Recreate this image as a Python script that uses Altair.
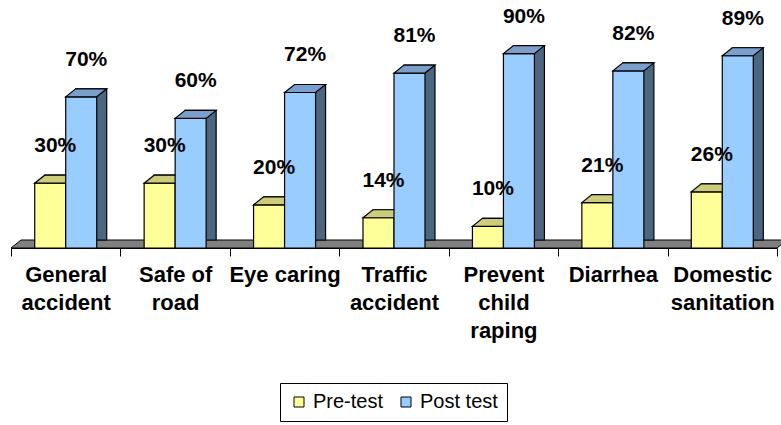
import altair as alt
import pandas as pd

# Survey topics and the share of correct answers before / after the course
categories = [
    "General\naccident",
    "Safe of\nroad",
    "Eye caring",
    "Traffic\naccident",
    "Prevent\nchild\nraping",
    "Diarrhea",
    "Domestic\nsanitation",
]
series_names = ["Pre-test", "Post test"]
pre_test = [30, 30, 20, 14, 10, 21, 26]
post_test = [70, 60, 72, 81, 90, 82, 89]

rows = []
for cat, a, b in zip(categories, pre_test, post_test):
    rows.append({"topic": cat, "series": "Pre-test", "value": a, "label": f"{a}%"})
    rows.append({"topic": cat, "series": "Post test", "value": b, "label": f"{b}%"})
df = pd.DataFrame(rows)

FONT = "Liberation Sans"
BAR_W = 31          # front face width of each column
DEPTH_X = 10        # 3-D depth, horizontal part
DEPTH_Y = 8         # 3-D depth, vertical part

# colours per series: front, top, side
faces = {
    "Pre-test": ("#FFFF99", "#CCCC7A", "#999966"),
    "Post test": ("#99CCFF", "#7A9FCC", "#4D6680"),
}
shift = {"Pre-test": -BAR_W / 2, "Post test": BAR_W / 2}

# top face of a column, drawn as a symbol in pixel units (size=4 -> scale 1)
half = BAR_W / 2
TOP_PATH = (
    f"M{-half},0 L{half},0 L{half + DEPTH_X},{-DEPTH_Y} "
    f"L{-half + DEPTH_X},{-DEPTH_Y} Z"
)
PLOT_W, PLOT_H = 766, 216
FLOOR_PATH = (
    f"M0,0 L{PLOT_W},0 L{PLOT_W + DEPTH_X},{-DEPTH_Y} L{DEPTH_X},{-DEPTH_Y} Z"
)

x_enc = alt.X(
    "topic:N",
    sort=categories,
    scale=alt.Scale(paddingInner=0, paddingOuter=0),
    axis=alt.Axis(
        title=None,
        labelAngle=0,
        labelExpr="split(datum.label, '\\n')",
        labelFont=FONT,
        labelFontSize=22,
        labelFontWeight="bold",
        labelColor="black",
        labelLineHeight=28,
        labelPadding=8,
        labelLimit=0,
        labelOverlap=False,
        domainColor="black",
        domainWidth=1,
        tickColor="black",
        tickSize=8,
        tickBand="extent",
        grid=False,
    ),
)
y_scale = alt.Scale(domain=[0, 100])
y_enc = alt.Y("value:Q", scale=y_scale, axis=None)

base = alt.Chart(df)

# grey floor slab under the columns
floor = (
    base.transform_filter(alt.datum.series == "Pre-test")
    .transform_filter(alt.datum.topic == categories[0])
    .transform_calculate(zero="0")
    .mark_point(
        shape=FLOOR_PATH, size=4, filled=True, fill="#808080",
        stroke="black", strokeWidth=1, opacity=1,
    )
    .encode(x=alt.value(0), y=alt.Y("zero:Q", scale=y_scale, axis=None))
)

layers = [floor]
for name in series_names:
    front_c, top_c, side_c = faces[name]
    sub = base.transform_filter(alt.datum.series == name)
    dx = shift[name]
    side = sub.mark_bar(
        width=BAR_W, xOffset=dx + DEPTH_X, yOffset=-DEPTH_Y, y2Offset=-DEPTH_Y,
        fill=side_c, stroke="black", strokeWidth=1.2,
    ).encode(x=x_enc, y=y_enc)
    front = sub.mark_bar(
        width=BAR_W, xOffset=dx, stroke="black", strokeWidth=1.2, opacity=1,
    ).encode(
        x=x_enc,
        y=y_enc,
        color=alt.Color(
            "series:N",
            scale=alt.Scale(domain=series_names,
                            range=[faces[s][0] for s in series_names]),
            legend=alt.Legend(
                title=None,
                orient="none",
                legendX=269,
                legendY=351,
                direction="horizontal",
                symbolType="square",
                symbolSize=100,
                symbolStrokeColor="black",
                symbolStrokeWidth=1,
                symbolOpacity=1,
                labelFont=FONT,
                labelFontSize=20,
                labelColor="black",
                labelOffset=4,
                columnPadding=12,
                padding=9,
                strokeColor="black",
                fillColor="white",
            ),
        ),
    )
    top = sub.mark_point(
        shape=TOP_PATH, size=4, filled=True, fill=top_c,
        stroke="black", strokeWidth=1.2, opacity=1, xOffset=dx,
    ).encode(x=x_enc, y=y_enc)
    layers += [side, front, top]

for name in series_names:
    sub = base.transform_filter(alt.datum.series == name)
    labels = sub.mark_text(
        dx=shift[name] + DEPTH_X / 2, dy=-37, font=FONT, fontSize=21,
        fontWeight="bold", color="black", baseline="middle", align="center",
    ).encode(x=x_enc, y=y_enc, text="label:N")
    layers.append(labels)

chart = (
    alt.layer(*layers)
    .properties(
        width=PLOT_W,
        height=PLOT_H,
        autosize=alt.AutoSizeParams(type="none"),
        padding={"left": 11, "top": 32, "right": 4, "bottom": 177},
        background="white",
    )
    .configure_view(stroke=None)
)

chart.save("out.html", embed_options={"renderer": "svg", "actions": False})
